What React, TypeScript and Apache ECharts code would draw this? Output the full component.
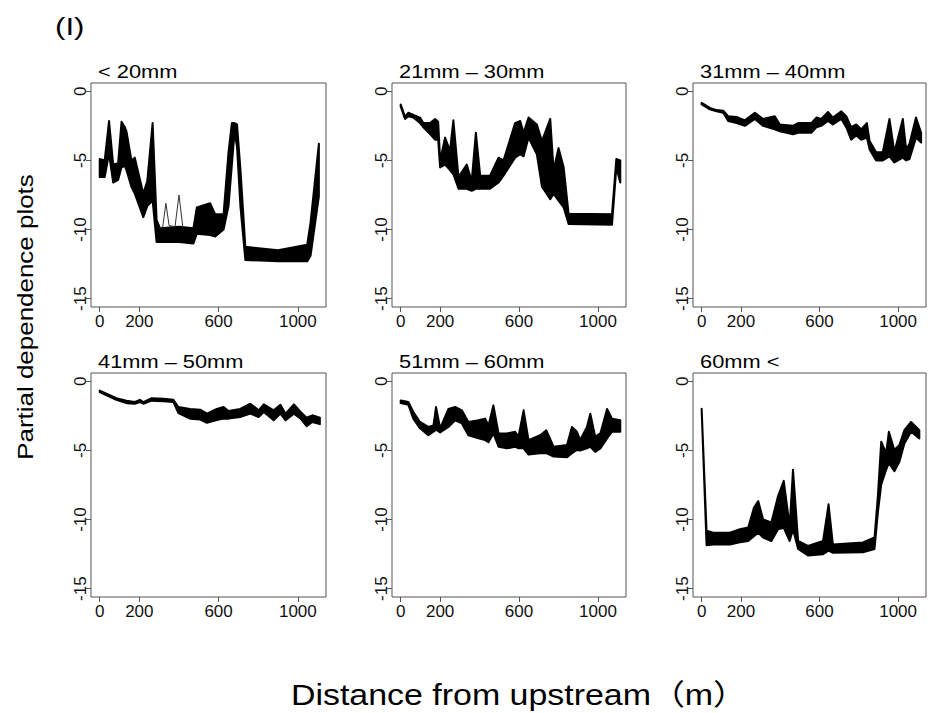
import React, { useEffect, useRef } from "react";
import * as echarts from "echarts";

const xTicks = [0, 200, 600, 1000];
const yTicks = [-15, -10, -5, 0];
const panelTitles = ["< 20mm", "21mm – 30mm", "31mm – 40mm", "41mm – 50mm", "51mm – 60mm", "60mm <"];

// Panel 1: < 20mm (envelope of the ensemble of curves)
const p1X = [0, 25, 47, 68, 93, 110, 127, 135, 160, 177, 220, 240, 267, 287, 304, 400, 473, 490, 557, 583, 625, 650, 667, 680, 693, 710, 735, 900, 1047, 1064, 1106];
const p1Upper = [-4.9, -5.0, -2.15, -5.3, -5.2, -2.2, -2.6, -2.9, -5.0, -4.8, -7.4, -6.5, -2.3, -9.3, -9.9, -9.8, -9.9, -8.4, -8.1, -8.9, -8.9, -4.4, -2.3, -2.3, -2.4, -5.6, -11.25, -11.5, -11.1, -9.5, -3.8];
const p1Lower = [-6.2, -6.2, -4.5, -6.6, -6.4, -5.5, -5.4, -5.7, -6.9, -7.4, -9.1, -8.3, -7.9, -10.9, -10.9, -10.9, -11.0, -10.3, -10.4, -10.5, -10.0, -8.3, -5.3, -3.0, -4.0, -8.3, -12.2, -12.3, -12.3, -11.9, -7.6];
// a few single curves that spike above the band
const p1SpikeX = [300, 318, 334, 350, 380, 400, 420];
const p1SpikeY = [-9.9, -9.8, -8.1, -9.7, -9.8, -7.5, -9.9];

// Panel 2: 21mm – 30mm
const p2X = [0, 22, 39, 64, 98, 115, 149, 174, 190, 200, 225, 250, 267, 293, 335, 360, 381, 403, 453, 496, 521, 580, 606, 623, 648, 690, 716, 758, 775, 800, 826, 851, 1071, 1093, 1113];
const p2Upper = [-0.95, -1.85, -1.55, -1.7, -1.9, -2.3, -2.3, -2.0, -2.2, -5.0, -3.35, -4.3, -2.1, -6.2, -5.3, -6.5, -3.0, -6.1, -6.1, -4.8, -5.0, -2.3, -2.15, -3.0, -1.9, -2.4, -3.6, -2.0, -5.7, -4.1, -5.5, -8.85, -8.9, -4.9, -5.0];
const p2Lower = [-1.1, -2.0, -1.8, -1.9, -2.3, -2.6, -3.1, -3.5, -3.5, -5.5, -5.3, -5.7, -6.0, -7.05, -7.05, -7.2, -7.05, -7.05, -7.05, -6.6, -6.1, -4.8, -4.55, -4.7, -3.35, -4.55, -6.9, -7.8, -7.4, -7.9, -8.4, -9.6, -9.65, -5.5, -6.6];

// Panel 3: 31mm – 40mm
const p3X = [0, 42, 76, 110, 135, 178, 220, 271, 313, 372, 398, 465, 491, 558, 584, 609, 643, 668, 711, 736, 761, 787, 812, 841, 855, 888, 922, 956, 981, 1024, 1041, 1058, 1091, 1117];
const p3Upper = [-0.84, -1.2, -1.36, -1.4, -1.8, -1.85, -2.1, -1.55, -2.0, -1.8, -2.4, -2.5, -2.3, -2.3, -1.9, -2.0, -1.5, -1.9, -1.45, -1.8, -2.6, -2.4, -2.75, -2.3, -3.6, -4.4, -4.4, -2.0, -4.4, -2.0, -4.2, -3.8, -1.9, -3.0];
const p3Lower = [-0.95, -1.3, -1.45, -1.55, -2.15, -2.3, -2.5, -2.0, -2.5, -2.75, -2.9, -3.1, -3.0, -3.0, -2.6, -2.5, -2.15, -2.4, -2.0, -2.6, -3.5, -3.2, -3.5, -3.35, -4.2, -5.0, -5.0, -4.7, -5.15, -4.8, -5.0, -4.9, -3.35, -3.7];

// Panel 4: 41mm – 50mm
const p4X = [0, 51, 84, 135, 177, 203, 220, 262, 321, 372, 397, 456, 507, 541, 591, 625, 650, 709, 760, 802, 828, 878, 912, 938, 980, 1014, 1044, 1073, 1111];
const p4Upper = [-0.67, -1.0, -1.22, -1.4, -1.5, -1.34, -1.5, -1.22, -1.27, -1.34, -1.86, -2.0, -2.05, -2.34, -2.0, -1.86, -2.15, -2.0, -1.62, -2.1, -1.67, -2.1, -1.7, -2.34, -1.67, -2.22, -2.63, -2.46, -2.63];
const p4Lower = [-0.78, -1.12, -1.34, -1.58, -1.62, -1.5, -1.62, -1.4, -1.45, -1.5, -2.3, -2.7, -2.77, -3.0, -2.8, -2.7, -2.7, -2.58, -2.34, -2.58, -2.22, -2.82, -2.34, -2.82, -2.34, -2.7, -3.25, -2.94, -3.1];

// Panel 5: 51mm – 60mm
const p5X = [0, 39, 64, 98, 140, 166, 179, 200, 242, 276, 310, 343, 394, 428, 445, 470, 496, 538, 580, 597, 623, 648, 707, 738, 775, 843, 868, 893, 910, 944, 961, 986, 1012, 1046, 1071, 1113];
const p5Upper = [-1.38, -1.5, -2.22, -2.94, -3.3, -3.2, -1.86, -3.4, -2.0, -1.86, -2.1, -2.94, -2.82, -2.7, -3.2, -1.74, -3.77, -3.77, -3.65, -4.0, -2.1, -4.25, -3.9, -3.55, -4.73, -4.6, -3.3, -3.65, -4.25, -3.3, -2.34, -4.0, -3.77, -2.0, -2.7, -2.82];
const p5Lower = [-1.58, -1.7, -2.7, -3.4, -3.9, -3.65, -3.5, -3.7, -3.3, -2.82, -3.05, -3.9, -4.13, -4.25, -4.4, -3.77, -4.73, -4.85, -4.73, -4.85, -4.85, -5.3, -5.2, -5.2, -5.44, -5.5, -5.2, -4.97, -5.0, -4.85, -4.73, -5.1, -4.85, -4.13, -3.65, -3.65];

// Panel 6: 60mm <
const p6X = [0, 25, 59, 144, 195, 237, 266, 288, 313, 355, 389, 418, 448, 465, 491, 541, 618, 646, 668, 821, 880, 897, 914, 939, 953, 981, 1007, 1032, 1066, 1108];
const p6Upper = [-1.98, -10.8, -10.95, -10.95, -10.7, -10.58, -9.15, -8.66, -10.0, -10.2, -8.3, -7.2, -10.5, -6.4, -11.55, -11.9, -11.55, -8.9, -11.8, -11.65, -11.3, -8.3, -4.37, -5.2, -3.65, -4.97, -4.6, -3.53, -2.94, -3.53];
const p6Lower = [-2.1, -11.85, -11.8, -11.8, -11.65, -11.55, -11.2, -10.95, -11.3, -11.55, -10.7, -10.6, -11.55, -10.7, -12.13, -12.6, -12.5, -12.25, -12.4, -12.37, -12.13, -9.5, -7.47, -6.4, -5.9, -6.5, -5.8, -4.5, -3.65, -4.13];

const panels = [
  { x: p1X, upper: p1Upper, lower: p1Lower },
  { x: p2X, upper: p2Upper, lower: p2Lower },
  { x: p3X, upper: p3Upper, lower: p3Lower },
  { x: p4X, upper: p4Upper, lower: p4Lower },
  { x: p5X, upper: p5Upper, lower: p5Lower },
  { x: p6X, upper: p6Upper, lower: p6Lower },
];

const GRID_LEFTS = [91, 392, 693];
const GRID_WIDTHS = [235, 234, 233];
const GRID_TOPS = [83, 373];
const GRID_H = 224;
const BOX = "#555";
const FONT = '"Liberation Sans", Arial, "Noto Sans CJK JP", sans-serif';

export default function App() {
  const ref = useRef<HTMLDivElement>(null);
  useEffect(() => {
    if (!ref.current) return;
    const chart = echarts.init(ref.current, null, { renderer: "svg" });
    const grids: any[] = [];
    const xAxes: any[] = [];
    const yAxes: any[] = [];
    const series: any[] = [];
    const graphics: any[] = [];
    panels.forEach((p, i) => {
      const col = i % 3;
      const row = Math.floor(i / 3);
      grids.push({
        left: GRID_LEFTS[col],
        top: GRID_TOPS[row],
        width: GRID_WIDTHS[col],
        height: GRID_H,
        show: true,
        borderColor: BOX,
        borderWidth: 1,
        backgroundColor: "transparent",
      });
      xAxes.push({
        type: "value",
        gridIndex: i,
        min: -44,
        max: 1142,
        position: "bottom",
        splitLine: { show: false },
        axisLine: { show: false, onZero: false },
        axisTick: { show: true, customValues: xTicks, length: 5, lineStyle: { color: BOX } },
        axisLabel: {
          customValues: xTicks,
          fontSize: 17,
          color: "#111",
          margin: 6,
          fontFamily: FONT,
          formatter: (v: number) => String(v),
        },
      });
      yAxes.push({
        type: "value",
        gridIndex: i,
        min: -15.6,
        max: 0.6,
        position: "left",
        splitLine: { show: false },
        axisLine: { show: false, onZero: false },
        axisTick: { show: true, customValues: yTicks, length: 5, lineStyle: { color: BOX } },
        axisLabel: {
          customValues: yTicks,
          fontSize: 17,
          color: "#111",
          margin: 2,
          rotate: 90,
          fontFamily: FONT,
          formatter: (v: number) => String(v),
        },
      });
      series.push({
        type: "custom",
        xAxisIndex: i,
        yAxisIndex: i,
        silent: true,
        clip: true,
        data: [[p.x[0], p.upper[0]]],
        renderItem: (_params: any, api: any) => {
          const pts: number[][] = [];
          for (let j = 0; j < p.x.length; j++) pts.push(api.coord([p.x[j], p.upper[j]]));
          for (let j = p.x.length - 1; j >= 0; j--) pts.push(api.coord([p.x[j], p.lower[j]]));
          return {
            type: "polygon",
            shape: { points: pts },
            style: { fill: "#000", stroke: "#000", lineWidth: 2, lineJoin: "round" },
          };
        },
      });
      graphics.push({
        type: "text",
        x: GRID_LEFTS[col] + 7,
        y: row === 0 ? 72 : 362,
        scaleX: 1.18,
        style: {
          text: panelTitles[i],
          fontSize: 18.5,
          fontFamily: FONT,
          fill: "#000",
          align: "left",
          textAlign: "left",
          verticalAlign: "middle",
          textVerticalAlign: "middle",
        },
      });
    });
    series.push({
      type: "line",
      xAxisIndex: 0,
      yAxisIndex: 0,
      silent: true,
      symbol: "none",
      data: p1SpikeX.map((x, k) => [x, p1SpikeY[k]]),
      lineStyle: { color: "#333", width: 1 },
    });
    graphics.push({
      type: "text",
      x: 55,
      y: 27,
      scaleX: 1.3,
      style: { text: "(I)", fontSize: 24, fontFamily: FONT, fill: "#000", align: "left", textAlign: "left", verticalAlign: "middle", textVerticalAlign: "middle" },
    });
    graphics.push({
      type: "text",
      x: 25,
      y: 317,
      rotation: Math.PI / 2,
      scaleX: 1.18,
      style: { text: "Partial dependence plots", fontSize: 22, fontFamily: FONT, fill: "#000", align: "center", textAlign: "center", verticalAlign: "middle", textVerticalAlign: "middle" },
    });
    graphics.push({
      type: "text",
      x: 519,
      y: 695,
      scaleX: 1.17,
      style: { text: "Distance from upstream（m）", fontSize: 29, fontFamily: FONT, fill: "#000", align: "center", textAlign: "center", verticalAlign: "middle", textVerticalAlign: "middle" },
    });
    chart.setOption({
      animation: false,
      backgroundColor: "#fff",
      grid: grids,
      xAxis: xAxes,
      yAxis: yAxes,
      series,
      graphic: graphics,
    });
    return () => chart.dispose();
  }, []);
  return <div ref={ref} style={{ position: "fixed", left: 0, top: 0, width: 932, height: 713 }} />;
}
